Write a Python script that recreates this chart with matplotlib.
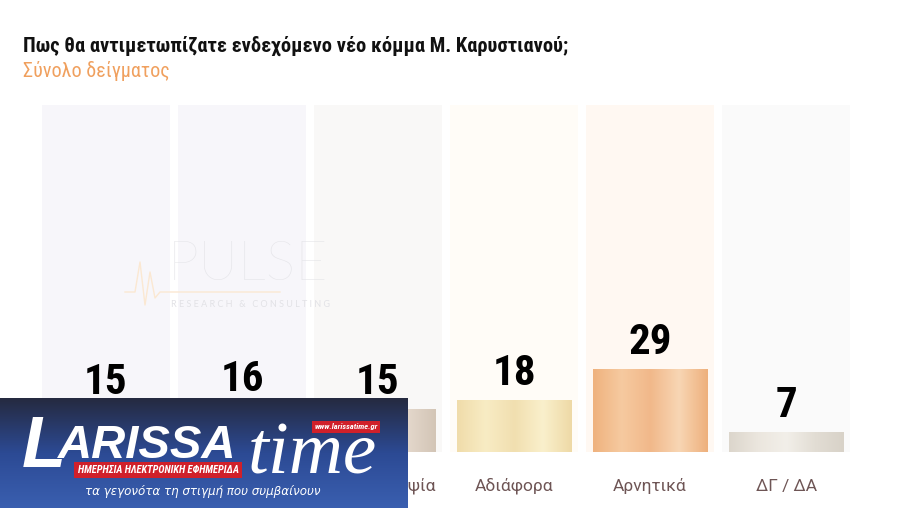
import numpy as np
import matplotlib
matplotlib.use("Agg")
import matplotlib.pyplot as plt
from matplotlib import font_manager
from matplotlib.colors import LinearSegmentedColormap

# ---- data ----
categories = ["Θετικά", "Με ενδιαφέρον", "Με καχυποψία", "Αδιάφορα", "Αρνητικά", "ΔΓ / ΔΑ"]
values = [15, 16, 15, 18, 29, 7]
title = "Πως θα αντιμετωπίζατε ενδεχόμενο νέο κόμμα Μ. Καρυστιανού;"
subtitle = "Σύνολο δείγματος"

# ---- style ----
bg_colors = ["#f7f6fa", "#f7f6fa", "#f9f8f7", "#fffcf7", "#fff8f2", "#fafafa"]
bar_grads = [
    ["#c9c4e0", "#dcd8ee", "#cfcae4", "#e2def0", "#c9c4e0"],
    ["#d2cce6", "#e4e0f2", "#d6d0e8", "#e8e4f4", "#d2cce6"],
    ["#d6c8ba", "#e6dcd2", "#d8cbbd", "#e4d8cc", "#d3c5b6"],
    ["#f0dcaa", "#f8ecc4", "#f1dfb0", "#faf0cc", "#eed9a6"],
    ["#efb27e", "#f6caa0", "#f1b88a", "#f8d6b4", "#eeb07c"],
    ["#dcd6cc", "#ebe6de", "#f2efe9", "#e2ddd4", "#d8d2c8"],
]
FIG_W, FIG_H = 905, 508

names = {f.name for f in font_manager.fontManager.ttflist}
cond = [n for n in ["Roboto Condensed", "Liberation Sans Narrow", "Open Sans Condensed",
                    "DejaVu Sans Condensed", "Noto Sans Condensed"] if n in names]
NARROW = cond + ["DejaVu Sans"]
STRETCH = "condensed"

fig = plt.figure(figsize=(FIG_W / 100, FIG_H / 100), dpi=100)
fig.patch.set_facecolor("white")

left, right, bottom, top = 42, 850, FIG_H - 452, FIG_H - 105
ax = fig.add_axes([left / FIG_W, bottom / FIG_H, (right - left) / FIG_W, (top - bottom) / FIG_H])
ymax = 121
n = len(categories)
x = np.arange(n)

ax.bar(x, [ymax] * n, width=0.94, color=bg_colors, zorder=1, linewidth=0)
bars = ax.bar(x, values, width=0.84, color="none", zorder=2, linewidth=0)
for b, grad in zip(bars, bar_grads):
    cmap = LinearSegmentedColormap.from_list("g", grad)
    g = np.linspace(0, 1, 256).reshape(1, -1)
    x0 = b.get_x()
    im = ax.imshow(g, cmap=cmap, aspect="auto", extent=[x0, x0 + b.get_width(), 0, b.get_height()],
                   zorder=2, interpolation="bilinear")
    im.set_clip_path(b)
ax.set_xlim(-0.47, n - 1 + 0.47)
ax.set_ylim(0, ymax)
ax.axis("off")

for xi, v in zip(x, values):
    ax.annotate(str(v), (xi, v), xytext=(0, 11), textcoords="offset points",
                ha="center", va="baseline", fontsize=31, fontweight="bold",
                family=NARROW, fontstretch=STRETCH, color="black", zorder=4)

for xi, c in zip(x, categories):
    ax.annotate(c, (xi, 0), xytext=(0, -28), textcoords="offset points",
                ha="center", va="baseline", fontsize=12.5, family=["Roboto", "DejaVu Sans"],
                color="#6e5555", annotation_clip=False, zorder=3)

fig.text(23 / FIG_W, 1 - 52 / FIG_H, title, fontsize=14.75, fontweight="bold",
         family=NARROW, fontstretch=STRETCH, color="#111111", ha="left", va="baseline")
fig.text(23 / FIG_W, 1 - 77 / FIG_H, subtitle, fontsize=14.5, family=NARROW, fontstretch=STRETCH,
         color="#f0a05e", ha="left", va="baseline")

# PULSE watermark
fig.text(248 / FIG_W, 1 - 280 / FIG_H, "PULSE", fontsize=40, family=["Lato", "DejaVu Sans"],
         fontweight="light", color="#e2e2e6", ha="center", va="baseline", alpha=0.85)
fig.text(250 / FIG_W, 1 - 307 / FIG_H, "R E S E A R C H   &   C O N S U L T I N G", fontsize=6.5,
         family=["Lato", "DejaVu Sans"], color="#e2e2e6", ha="center", va="baseline")
fig.add_artist(plt.Line2D([125 / FIG_W, 135 / FIG_W, 140 / FIG_W, 145 / FIG_W, 150 / FIG_W,
                           155 / FIG_W, 160 / FIG_W, 280 / FIG_W],
                          [1 - 292 / FIG_H, 1 - 292 / FIG_H, 1 - 262 / FIG_H, 1 - 305 / FIG_H,
                           1 - 272 / FIG_H, 1 - 298 / FIG_H, 1 - 292 / FIG_H, 1 - 292 / FIG_H],
                          color="#fbe8d2", lw=1.0))

# LARISSA time banner
bax = fig.add_axes([0, 0, 407 / FIG_W, 110 / FIG_H])
bax.set_zorder(10)
grad = np.linspace(0, 1, 128).reshape(-1, 1)
bcmap = LinearSegmentedColormap.from_list("b", ["#3a5fb0", "#2c4a94", "#252a40"])
bax.imshow(grad, cmap=bcmap, aspect="auto", extent=[0, 1, 0, 1], origin="lower")
bax.set_xlim(0, 1)
bax.set_ylim(0, 1)
bax.axis("off")
bax.text(22 / 407, (508 - 467) / 110, "L", fontsize=52, fontweight="bold", fontstyle="italic",
         family=["Liberation Sans", "DejaVu Sans"], color="white", ha="left", va="baseline")
bax.text(58 / 407, (508 - 458) / 110, "ARISSA", fontsize=34, fontweight="bold", fontstyle="italic",
         family=["Liberation Sans", "DejaVu Sans"], color="white", ha="left", va="baseline")
bax.text(248 / 407, (508 - 473) / 110, "time", fontsize=54, fontstyle="italic",
         family=["Liberation Serif", "DejaVu Serif"], color="white", ha="left", va="baseline")
bax.text(346 / 407, (508 - 427) / 110, "www.larissatime.gr", fontsize=6, fontweight="bold",
         fontstyle="italic", family=NARROW, color="white", ha="center", va="center",
         bbox=dict(boxstyle="square,pad=0.3", fc="#d0202a", ec="none"))
bax.text(158 / 407, (508 - 470) / 110, "ΗΜΕΡΗΣΙΑ ΗΛΕΚΤΡΟΝΙΚΗ ΕΦΗΜΕΡΙΔΑ", fontsize=7.5,
         fontweight="bold", fontstyle="italic", family=NARROW, fontstretch=STRETCH,
         color="white", ha="center", va="center",
         bbox=dict(boxstyle="square,pad=0.3", fc="#d0202a", ec="none"))
bax.text(203 / 407, (508 - 492) / 110, "τα γεγονότα τη στιγμή που συμβαίνουν", fontsize=8.6,
         fontstyle="italic", color="white", ha="center", va="center")

fig.savefig("out.png", dpi=100, facecolor="white")
